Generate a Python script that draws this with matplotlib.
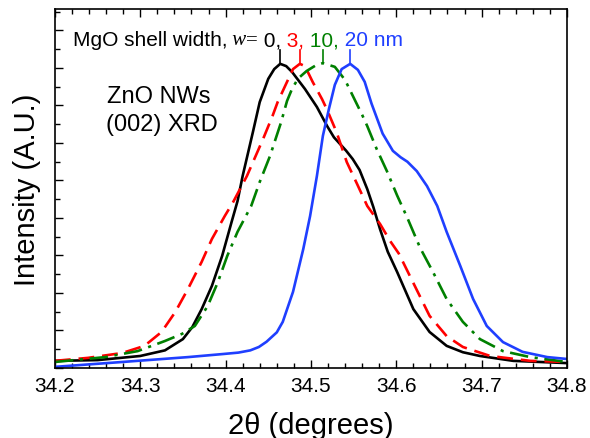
import numpy as np
import matplotlib
matplotlib.use("Agg")
import matplotlib.pyplot as plt
from matplotlib.ticker import MultipleLocator, NullFormatter
from matplotlib.transforms import offset_copy

plt.rcParams["font.family"] = ["Liberation Sans", "DejaVu Sans"]

tth_w0 = [34.200, 34.250, 34.300, 34.329, 34.350, 34.361, 34.372, 34.384, 34.396,
          34.407, 34.414, 34.420, 34.432, 34.440, 34.450, 34.457, 34.464, 34.471,
          34.478, 34.493, 34.507, 34.519, 34.527, 34.541, 34.549, 34.557, 34.566,
          34.573, 34.581, 34.590, 34.601, 34.620, 34.639, 34.659, 34.678, 34.698,
          34.737, 34.800]
int_w0 = [0.19, 0.21, 0.32, 0.47, 0.77, 1.09, 1.57, 2.19, 2.99,
          3.89, 4.45, 5.12, 6.29, 7.09, 7.71, 7.97, 8.11, 8.05,
          7.89, 7.44, 6.96, 6.45, 6.15, 5.80, 5.57, 5.28, 4.77,
          4.30, 3.70, 3.10, 2.56, 1.57, 0.96, 0.59, 0.42, 0.32,
          0.19, 0.13]

tth_w3 = [34.200, 34.239, 34.279, 34.305, 34.325, 34.341, 34.356, 34.372, 34.384,
          34.399, 34.409, 34.425, 34.444, 34.455, 34.461, 34.472, 34.479, 34.487,
          34.493, 34.502, 34.513, 34.519, 34.530, 34.542, 34.554, 34.566, 34.581,
          34.593, 34.603, 34.616, 34.639, 34.659, 34.678, 34.710, 34.757, 34.800]
int_w3 = [0.19, 0.27, 0.40, 0.59, 0.96, 1.49, 2.11, 2.83, 3.44,
          4.05, 4.43, 5.12, 6.11, 6.72, 7.09, 7.63, 7.97, 8.11,
          8.05, 7.63, 7.17, 6.88, 6.29, 5.49, 4.91, 4.32, 3.84,
          3.38, 3.05, 2.45, 1.39, 0.85, 0.56, 0.32, 0.19, 0.16]

tth_w10 = [34.200, 34.259, 34.297, 34.329, 34.349, 34.364, 34.379, 34.391, 34.402,
           34.414, 34.430, 34.440, 34.452, 34.465, 34.472, 34.478, 34.485, 34.495,
           34.505, 34.514, 34.528, 34.540, 34.552, 34.560, 34.566, 34.577, 34.589,
           34.601, 34.613, 34.628, 34.643, 34.659, 34.678, 34.698, 34.725, 34.757,
           34.800]
int_w10 = [0.16, 0.29, 0.45, 0.72, 0.91, 1.12, 1.65, 2.29, 2.99,
           3.63, 4.32, 4.96, 5.65, 6.55, 7.12, 7.45, 7.72, 7.92,
           8.06, 8.13, 8.03, 7.68, 7.12, 6.75, 6.45, 5.84, 5.25,
           4.60, 4.00, 3.20, 2.56, 1.84, 1.23, 0.77, 0.45, 0.29,
           0.16]

tth_w20 = [34.200, 34.279, 34.356, 34.396, 34.415, 34.429, 34.439, 34.448, 34.460,
           34.467, 34.479, 34.491, 34.499, 34.507, 34.514, 34.521, 34.528, 34.536,
           34.546, 34.555, 34.563, 34.571, 34.584, 34.596, 34.605, 34.613, 34.624,
           34.636, 34.648, 34.659, 34.675, 34.690, 34.706, 34.725, 34.748, 34.777,
           34.800]
int_w20 = [0.03, 0.16, 0.29, 0.37, 0.41, 0.47, 0.56, 0.70, 0.95,
           1.23, 2.03, 3.17, 4.05, 5.12, 6.19, 6.90, 7.55, 7.97,
           8.11, 7.95, 7.63, 7.05, 6.25, 5.79, 5.62, 5.50, 5.25,
           4.85, 4.32, 3.63, 2.72, 1.84, 1.12, 0.69, 0.43, 0.29,
           0.24]

# peak positions (marked with short ticks) and shell widths
peak_pos = [34.464, 34.487, 34.514, 34.546]
peak_int = [8.11, 8.11, 8.13, 8.11]
shell_w = ["0,", "3,", "10,", "20 nm"]
colors = ["black", "red", "green", "#1f3fff"]
styles = ["-", (0, (6, 3)), (0, (7, 2.5, 1.2, 2.5)), "-"]

fig = plt.figure(figsize=(5.9, 4.39), dpi=100)
ax = fig.add_axes([0.093, 0.1595, 0.868, 0.8175])

series = [(tth_w0, int_w0), (tth_w3, int_w3), (tth_w10, int_w10), (tth_w20, int_w20)]
for (x, y), c, ls in zip(series, colors, styles):
    ax.plot(x, y, color=c, ls=ls, lw=1.9)

for xp, yp, c in zip(peak_pos, peak_int, colors):
    ax.plot([xp, xp], [yp, 8.47], color=c, lw=1.2)

ax.set_xlim(34.2, 34.8)
ax.set_ylim(0, 9.57)
ax.xaxis.set_major_locator(MultipleLocator(0.1))
ax.xaxis.set_minor_locator(MultipleLocator(0.02))
ax.yaxis.set_major_locator(MultipleLocator(1.0))
ax.yaxis.set_minor_locator(MultipleLocator(0.5))
ax.yaxis.set_major_formatter(NullFormatter())
ax.tick_params(which="both", direction="in", top=True, right=False, width=1.0)
ax.tick_params(which="major", length=6, labelsize=15, pad=6)
ax.tick_params(which="minor", length=3.5)
for s in ax.spines.values():
    s.set_linewidth(1.2)

ax.set_xlabel("2θ (degrees)", fontsize=21, labelpad=11)
ax.set_ylabel("Intensity (A.U.)", fontsize=21, labelpad=4)

# title line built from coloured pieces
serif = ["Liberation Serif", "DejaVu Serif"]
pieces = [("MgO shell width,", "black", {}),
          (" w", "black", {"family": serif, "style": "italic"}),
          ("=", "black", {"family": serif}),
          (" " + shell_w[0], colors[0], {}), (" " + shell_w[1], colors[1], {}),
          (" " + shell_w[2], colors[2], {}), (" " + shell_w[3], colors[3], {})]
fig.canvas.draw()
rend = fig.canvas.get_renderer()
tr = ax.transAxes
for s, c, kw in pieces:
    t = ax.text(0.035, 0.915, s, color=c, fontsize=15, va="center", ha="left",
                transform=tr, **kw)
    bb = t.get_window_extent(renderer=rend)
    tr = offset_copy(t.get_transform(), fig=fig, x=bb.width, units="dots")

ax.text(0.102, 0.758, "ZnO NWs", transform=ax.transAxes, fontsize=17,
        va="center", ha="left")
ax.text(0.100, 0.680, "(002) XRD", transform=ax.transAxes, fontsize=17,
        va="center", ha="left")

fig.savefig("out.png", dpi=100)
